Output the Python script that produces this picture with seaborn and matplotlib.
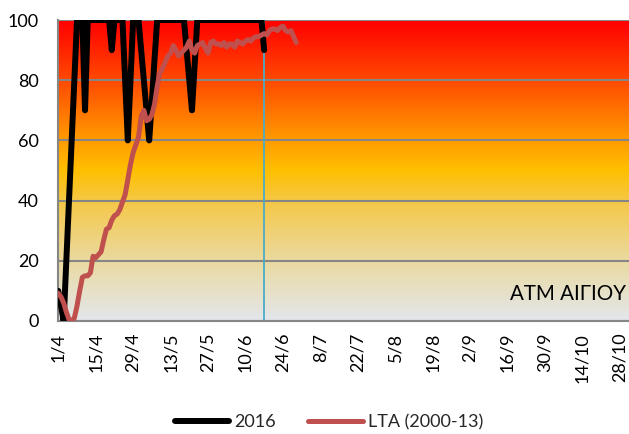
import numpy as np
import pandas as pd
import matplotlib
matplotlib.use("Agg")
import matplotlib.pyplot as plt
from matplotlib.colors import LinearSegmentedColormap
from matplotlib.lines import Line2D
import seaborn as sns

############# data (days counted from 1/4)
y2016 = [10, 5, 0, 20, 40, 60, 80, 100, 100, 100,
         70, 100, 100, 100, 100, 100, 100, 100, 100, 100,
         90, 100, 100, 100, 100, 80, 60, 80, 100, 100,
         100, 90, 80, 70, 60, 73, 87, 100, 100, 100,
         100, 100, 100, 100, 100, 100, 100, 100, 90, 80,
         70, 85, 100, 100, 100, 100, 100, 100, 100, 100,
         100, 100, 100, 100, 100, 100, 100, 100, 100, 100,
         100, 100, 100, 100, 100, 100, 100, 90]

lta = [9.2, 8, 6, 3, 0.5, 0, 1, 5, 10, 14.5,
       15, 15, 16, 21.5, 21, 22, 23, 27, 30.5, 31,
       33.5, 35, 35.5, 37, 39.5, 42, 47, 52, 56, 58.5,
       61, 68, 70, 66.5, 67, 68.5, 72, 78, 82.5, 84,
       86, 88, 89, 91.5, 90, 88, 89, 90, 91, 93,
       90, 89, 91.5, 92, 92.5, 90.5, 89, 92.5, 93, 92,
       92, 91.5, 92.5, 91, 92, 92, 91, 93, 92.5, 92,
       93, 93.5, 93, 94, 94.5, 94.5, 95, 95.5, 95, 96.5,
       97, 97, 96.5, 97.5, 98, 96.5, 96, 96.5, 94.5, 92.5]

tick_labels = ["1/4", "15/4", "29/4", "13/5", "27/5", "10/6", "24/6", "8/7",
               "22/7", "5/8", "19/8", "2/9", "16/9", "30/9", "14/10", "28/10"]
today = 77
station = "ΑΤΜ ΑΙΓΙΟΥ"

############# dataframe
df = pd.concat([
    pd.DataFrame({"day": np.arange(len(y2016)), "value": y2016, "series": "2016"}),
    pd.DataFrame({"day": np.arange(len(lta)), "value": lta, "series": "LTA (2000-13)"}),
])

############# plotting
sns.set_style("white")
plt.rcParams["font.family"] = ["Lato", "DejaVu Sans"]

fig = plt.figure(figsize=(6.29, 4.34), dpi=100)
ax = fig.add_axes([0.0927, 0.2604, 0.935, 0.6935])

xmax = 220
grad = LinearSegmentedColormap.from_list("fire", [
    (0.0, "#e3e6ec"), (0.2, "#eadaa0"), (0.4, "#f5c745"), (0.5, "#ffc000"),
    (0.62, "#ff9400"), (0.8, "#ff4a00"), (1.0, "#ff0000")])
ax.imshow(np.linspace(1, 0, 256).reshape(-1, 1), cmap=grad, aspect="auto",
          extent=[0, xmax, 0, 100], zorder=0, interpolation="bilinear")

sns.lineplot(data=df, x="day", y="value", hue="series",
             palette={"2016": "black", "LTA (2000-13)": "#c0504d"},
             size="series", sizes={"2016": 4.3, "LTA (2000-13)": 3.6},
             ax=ax, legend=False, zorder=3)

ax.axvline(today, color="#4bacc6", lw=1.3, zorder=2)

ax.set_xlim(0, xmax)
ax.set_ylim(0, 100)
ax.set_yticks(range(0, 101, 20))
ax.set_xticks(range(0, 14 * len(tick_labels), 14))
ax.set_xticklabels(tick_labels, rotation=90)
ax.tick_params(axis="both", labelsize=13, colors="#868686", length=5, width=1.3,
               labelcolor="black", direction="out")
ax.tick_params(axis="y", pad=9)
ax.grid(axis="y", color="#868686", lw=1.5)
ax.set_axisbelow(True)
for s in ["top", "right"]:
    ax.spines[s].set_visible(False)
for s in ["left", "bottom"]:
    ax.spines[s].set_color("#868686")
    ax.spines[s].set_linewidth(1.5)
ax.set_xlabel("")
ax.set_ylabel("")

ax.text(169, 7, station, fontsize=14.8, color="black", zorder=4)

handles = [Line2D([], [], color="black", lw=4.3),
           Line2D([], [], color="#c0504d", lw=3.6)]
fig.legend(handles, ["2016", "LTA (2000-13)"], loc="center",
           bbox_to_anchor=(0.523, 0.027), ncol=2, frameon=False, fontsize=13,
           handlelength=3.0, handletextpad=0.3, columnspacing=1.8)

plt.savefig("out.png", dpi=100)
